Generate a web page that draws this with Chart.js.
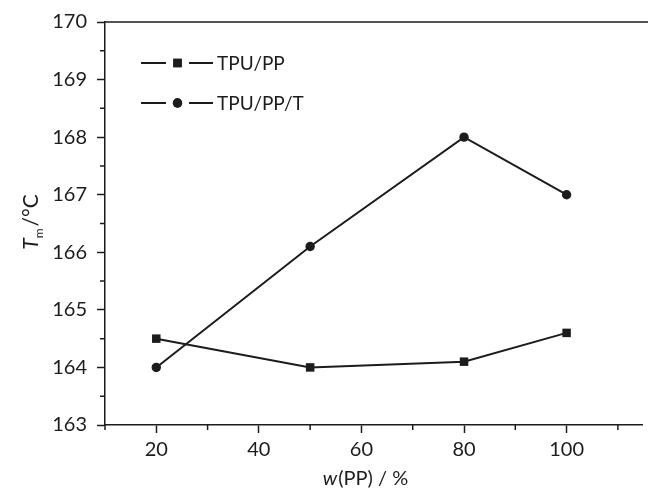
<!DOCTYPE html>
<html>
<head>
<meta charset="utf-8">
<script src="https://cdn.jsdelivr.net/npm/chart.js@4"></script>
<style>
  html, body { margin: 0; padding: 0; background: #fff; }
  #wrap { width: 648px; height: 492px; }
</style>
</head>
<body>
<div id="wrap"><canvas id="tmChart"></canvas></div>
<script>
// --- Data ---
const ppContent = [20, 50, 80, 100];
const tmTpuPp = [164.5, 164.0, 164.1, 164.6];
const tmTpuPpT = [164.0, 166.1, 168.0, 167.0];
const seriesNames = ['TPU/PP', 'TPU/PP/T'];
const xTickValues = [20, 40, 60, 80, 100];
const xMinorValues = [10, 30, 50, 70, 90, 110];
const yTickValues = [163, 164, 165, 166, 167, 168, 169, 170];
const yMinorValues = [163.5, 164.5, 165.5, 166.5, 167.5, 168.5, 169.5];

const FONT = 'Lato, "Open Sans", sans-serif';
const INK = '#1c1c1c';

function toPoints(ys) {
    return ppContent.map((x, i) => ({ x: x, y: ys[i] }));
}

// minor ticks, top frame line, axis titles and the legend
const extras = {
    id: 'extras',
    afterDraw(chart) {
        const ctx = chart.ctx;
        const x = chart.scales.x, y = chart.scales.y;
        const area = chart.chartArea;
        ctx.save();
        ctx.strokeStyle = INK;
        ctx.lineWidth = 1.5;
        ctx.beginPath();
        ctx.moveTo(area.left, area.top);
        ctx.lineTo(chart.width, area.top);
        xMinorValues.forEach(v => {
            const px = x.getPixelForValue(v);
            ctx.moveTo(px, area.bottom);
            ctx.lineTo(px, area.bottom + 5);
        });
        yMinorValues.forEach(v => {
            const py = y.getPixelForValue(v);
            ctx.moveTo(area.left, py);
            ctx.lineTo(area.left - 5, py);
        });
        ctx.stroke();

        // x title: w(PP) / %
        ctx.fillStyle = INK;
        ctx.textBaseline = 'alphabetic';
        ctx.font = 'italic 20px ' + FONT;
        const wW = ctx.measureText('w').width;
        ctx.font = '20px ' + FONT;
        const rest = '(PP) / %';
        const rW = ctx.measureText(rest).width;
        let sx = 365 - (wW + rW) / 2;
        ctx.font = 'italic 20px ' + FONT;
        ctx.fillText('w', sx, 485);
        ctx.font = '20px ' + FONT;
        ctx.fillText(rest, sx + wW + 1, 485);

        // y title: Tm / °C, rotated
        ctx.save();
        ctx.translate(38, 222);
        ctx.rotate(-Math.PI / 2);
        ctx.font = 'italic 21px ' + FONT;
        const tW = ctx.measureText('T').width;
        ctx.font = '12px ' + FONT;
        const mW = ctx.measureText('m').width;
        ctx.font = '21px ' + FONT;
        const cW = ctx.measureText('/°C').width;
        let ty = -(tW + mW + cW + 2) / 2;
        ctx.font = 'italic 21px ' + FONT;
        ctx.fillText('T', ty, 0);
        ctx.font = '12px ' + FONT;
        ctx.fillText('m', ty + tW, 5);
        ctx.font = '21px ' + FONT;
        ctx.fillText('/°C', ty + tW + mW + 2, 0);
        ctx.restore();

        // legend
        const rows = [63, 103];
        chart.data.datasets.forEach((ds, i) => {
            const ly = rows[i];
            ctx.strokeStyle = INK;
            ctx.lineWidth = 2;
            ctx.beginPath();
            ctx.moveTo(141, ly); ctx.lineTo(166, ly);
            ctx.moveTo(189, ly); ctx.lineTo(213, ly);
            ctx.stroke();
            Chart.helpers.drawPoint(ctx, {
                pointStyle: ds.pointStyle,
                radius: ds.pointRadius,
                rotation: 0,
                borderWidth: 0
            }, 177.5, ly);
            ctx.fillStyle = INK;
            ctx.fill();
            ctx.font = '19px ' + FONT;
            ctx.textBaseline = 'middle';
            ctx.fillText(ds.label, 217, ly + 1);
        });
        ctx.restore();
    }
};

const ctx = document.getElementById('tmChart').getContext('2d');
const tmChart = new Chart(ctx, {
    type: 'line',
    data: {
        datasets: [{
            label: seriesNames[0],
            data: toPoints(tmTpuPp),
            borderColor: INK,
            backgroundColor: INK,
            borderWidth: 2,
            pointStyle: 'rect',
            pointRadius: 6,
            pointBorderWidth: 0,
            tension: 0
        }, {
            label: seriesNames[1],
            data: toPoints(tmTpuPpT),
            borderColor: INK,
            backgroundColor: INK,
            borderWidth: 2,
            pointStyle: 'circle',
            pointRadius: 4.7,
            pointBorderWidth: 0,
            tension: 0
        }]
    },
    options: {
        responsive: true,
        maintainAspectRatio: false,
        animation: false,
        layout: { padding: { top: 20, right: 0, left: 0, bottom: 0 } },
        plugins: {
            legend: { display: false },
            tooltip: { enabled: false }
        },
        scales: {
            x: {
                type: 'linear',
                min: 10,
                max: 114.7,
                afterBuildTicks: s => { s.ticks = xTickValues.map(v => ({ value: v })); },
                afterFit: s => { s.height = 67; },
                border: { color: INK, width: 1.5 },
                grid: { drawOnChartArea: false, tickLength: 8, tickColor: INK, tickWidth: 1.5 },
                ticks: { color: INK, font: { family: FONT, size: 20 }, padding: 5, maxRotation: 0 }
            },
            y: {
                type: 'linear',
                min: 163,
                max: 170,
                afterBuildTicks: s => { s.ticks = yTickValues.map(v => ({ value: v })); },
                afterFit: s => { s.width = 105; },
                border: { color: INK, width: 1.5 },
                grid: { drawOnChartArea: false, tickLength: 8, tickColor: INK, tickWidth: 1.5 },
                ticks: { color: INK, font: { family: FONT, size: 20 }, padding: 10 }
            }
        }
    },
    plugins: [extras]
});
</script>
</body>
</html>
